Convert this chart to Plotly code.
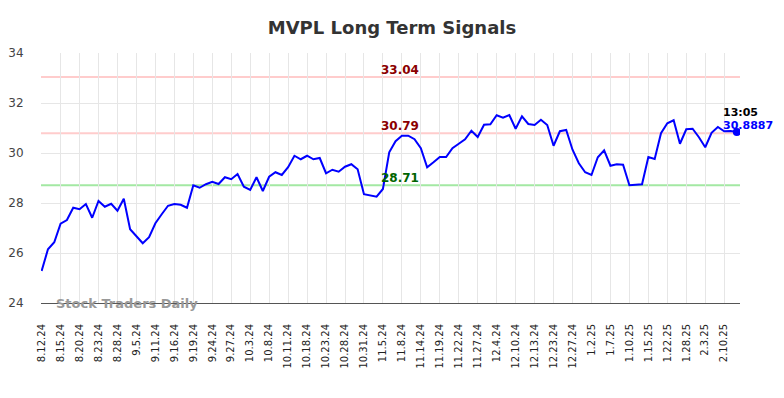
import plotly.graph_objects as go

dates = ["8.12.24","8.13.24","8.14.24","8.15.24","8.16.24","8.19.24","8.20.24","8.21.24","8.22.24","8.23.24",
         "8.26.24","8.27.24","8.28.24","8.29.24","9.3.24","9.5.24","9.6.24","9.9.24","9.11.24","9.12.24",
         "9.13.24","9.16.24","9.17.24","9.18.24","9.19.24","9.20.24","9.23.24","9.24.24","9.25.24","9.26.24",
         "9.27.24","9.30.24","10.1.24","10.3.24","10.4.24","10.7.24","10.8.24","10.9.24","10.10.24","10.11.24",
         "10.14.24","10.16.24","10.18.24","10.21.24","10.22.24","10.23.24","10.24.24","10.25.24","10.28.24","10.29.24",
         "10.30.24","10.31.24","11.1.24","11.4.24","11.5.24","11.6.24","11.7.24","11.8.24","11.11.24","11.12.24",
         "11.14.24","11.15.24","11.18.24","11.19.24","11.20.24","11.21.24","11.22.24","11.25.24","11.26.24","11.27.24",
         "11.29.24","12.2.24","12.4.24","12.5.24","12.6.24","12.10.24","12.11.24","12.12.24","12.13.24","12.16.24",
         "12.18.24","12.23.24","12.24.24","12.26.24","12.27.24","12.30.24","12.31.24","1.2.25","1.3.25","1.6.25",
         "1.7.25","1.8.25","1.9.25","1.10.25","1.13.25","1.14.25","1.15.25","1.16.25","1.17.25","1.22.25",
         "1.23.25","1.24.25","1.28.25","1.29.25","1.31.25","2.3.25","2.4.25","2.6.25","2.10.25","2.11.25",
         "2.12.25"]

prices = [25.28,26.15,26.43,27.17,27.32,27.81,27.75,27.96,27.41,28.08,
          27.85,27.97,27.69,28.17,26.95,26.69,26.39,26.63,27.19,27.55,
          27.89,27.96,27.93,27.81,28.71,28.61,28.75,28.85,28.76,29.03,
          28.95,29.16,28.65,28.52,29.03,28.48,29.05,29.23,29.12,29.43,
          29.89,29.75,29.89,29.75,29.80,29.19,29.33,29.25,29.45,29.55,
          29.35,28.35,28.29,28.25,28.56,30.03,30.47,30.69,30.69,30.55,
          30.19,29.43,29.63,29.84,29.84,30.19,30.37,30.55,30.89,30.64,
          31.13,31.15,31.51,31.41,31.52,30.97,31.47,31.16,31.12,31.33,
          31.12,30.29,30.87,30.92,30.13,29.59,29.23,29.12,29.83,30.11,
          29.49,29.55,29.53,28.71,28.73,28.75,29.84,29.76,30.79,31.19,
          31.31,30.37,30.95,30.97,30.63,30.23,30.81,31.04,30.87,30.88,
          30.84]

tick_labels = dates[::3]

resistance_levels = [33.04, 30.79]
support_levels = [28.71]
last_time = "13:05"
last_price_text = "30.8887"

y_ticks = [24, 26, 28, 30, 32, 34]

fig = go.Figure()

for lv in resistance_levels:
    fig.add_hline(y=lv, line=dict(color="#ffcccc", width=2), layer="below")
for lv in support_levels:
    fig.add_hline(y=lv, line=dict(color="#a3e8a3", width=2), layer="below")

fig.add_trace(go.Scatter(x=dates, y=prices, mode="lines",
                         line=dict(color="#0000ff", width=2), hoverinfo="skip"))
fig.add_trace(go.Scatter(x=[dates[-1]], y=[prices[-1]], mode="markers",
                         marker=dict(color="#0000ff", size=8), hoverinfo="skip"))

mid_x = 0.513
for lv in resistance_levels:
    fig.add_annotation(x=mid_x, xref="paper", y=lv, yref="y", text=f"<b>{lv:.2f}</b>",
                       showarrow=False, yanchor="bottom", yshift=-2,
                       font=dict(family="DejaVu Sans", size=12, color="#8b0000"))
for lv in support_levels:
    fig.add_annotation(x=mid_x, xref="paper", y=lv, yref="y", text=f"<b>{lv:.2f}</b>",
                       showarrow=False, yanchor="bottom", yshift=-2,
                       font=dict(family="DejaVu Sans", size=12, color="#006400"))

fig.add_annotation(x=dates[-1], xref="x", y=prices[-1], yref="y", text=f"<b>{last_time}</b>",
                   showarrow=False, xanchor="left", xshift=-16, yshift=20,
                   font=dict(family="DejaVu Sans", size=11, color="#000000"))
fig.add_annotation(x=dates[-1], xref="x", y=prices[-1], yref="y", text=f"<b>{last_price_text}</b>",
                   showarrow=False, xanchor="left", xshift=-16, yshift=7,
                   font=dict(family="DejaVu Sans", size=11, color="#0000ff"))

fig.add_annotation(x=0.018, xref="paper", y=24, yref="y", text="<b>Stock Traders Daily</b>",
                   showarrow=False, xanchor="left", yanchor="middle",
                   font=dict(family="DejaVu Sans", size=13, color="#999999"))

fig.update_layout(
    width=784, height=398,
    margin=dict(l=41, r=44, t=53, b=95, autoexpand=False),
    paper_bgcolor="white", plot_bgcolor="white",
    showlegend=False,
    title=dict(text="<b>MVPL Long Term Signals</b>", x=0.5, xanchor="center", y=0.93, yanchor="middle",
               font=dict(family="DejaVu Sans", size=18, color="#333333")),
    font=dict(family="DejaVu Sans"),
)
fig.update_xaxes(type="category", range=[-0.1, 110.5], tickmode="array", tickvals=tick_labels,
                 ticktext=tick_labels, tickangle=-90, automargin=False,
                 tickfont=dict(size=10, color="#222222"),
                 showgrid=True, gridcolor="#e6e6e6", gridwidth=1,
                 showline=True, linecolor="#555555", linewidth=1,
                 ticks="outside", ticklen=16, tickcolor="rgba(0,0,0,0)", zeroline=False)
fig.update_yaxes(range=[24, 34], tickvals=y_ticks, automargin=False,
                 tickfont=dict(size=12, color="#444444"),
                 showgrid=True, gridcolor="#e6e6e6", gridwidth=1,
                 ticks="outside", ticklen=14, tickcolor="rgba(0,0,0,0)", zeroline=False)

fig.write_html("out.html", config={"displayModeBar": False, "staticPlot": True},
               post_script="document.body.style.margin='0';document.body.style.overflow='hidden';")
